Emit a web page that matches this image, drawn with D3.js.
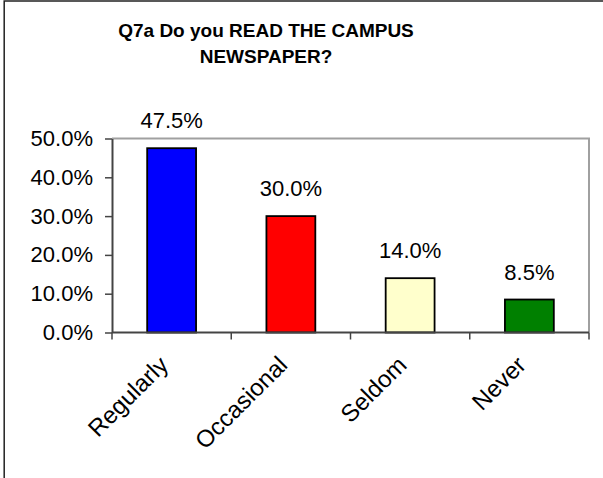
<!DOCTYPE html>
<html>
<head>
<meta charset="utf-8">
<script src="https://d3js.org/d3.v7.min.js"></script>
<style>
    body { margin: 0; background: #fff; }
    text { font-family: "Liberation Sans", Arial, sans-serif; fill: #000; }
    .title { font-size: 19px; font-weight: bold; }
    .tickLabel { font-size: 22px; }
    .catLabel { font-size: 24px; }
    .valueLabel { font-size: 22px; }
</style>
</head>
<body>
<script>
var categories = ["Regularly", "Occasional", "Seldom", "Never"];
var values = [0.475, 0.30, 0.14, 0.085];
var barColors = ["#0000FF", "#FF0000", "#FFFFCC", "#008000"];
var yTicks = [0, 0.1, 0.2, 0.3, 0.4, 0.5];
var titleLines = ["Q7a Do you READ THE CAMPUS", "NEWSPAPER?"];

let width = 603, height = 478;
let plot = { left: 112, right: 589, top: 138.5, bottom: 332.5 };

var svg = d3.select("body")
    .append("svg")
    .attr("width", width)
    .attr("height", height);

// outer chart frame (runs past the right and bottom edge)
svg.append("rect")
    .attr("x", 4.2)
    .attr("y", 1)
    .attr("width", 800)
    .attr("height", 600)
    .attr("fill", "#fff")
    .attr("stroke", "#222")
    .attr("stroke-width", 1.5);

// title
svg.append("g")
    .selectAll("text")
    .data(titleLines)
    .enter()
    .append("text")
    .attr("class", "title")
    .attr("x", 266)
    .attr("y", function(d, i) { return 37 + i * 26; })
    .attr("text-anchor", "middle")
    .text(function(d) { return d; });

var xScale = d3.scaleBand()
    .domain(categories)
    .range([plot.left, plot.right])
    .padding(0);

var yScale = d3.scaleLinear()
    .domain([0, 0.5])
    .range([plot.bottom, plot.top]);

let barWidth = xScale.bandwidth() * 0.41;

// plot area border: top and right in grey
svg.append("path")
    .attr("d", "M" + plot.left + "," + plot.top + "H" + plot.right + "V" + plot.bottom)
    .attr("fill", "none")
    .attr("stroke", "#a0a0a0")
    .attr("stroke-width", 2);

// bars
svg.append("g")
    .selectAll("rect")
    .data(values)
    .enter()
    .append("rect")
    .attr("x", function(d, i) { return xScale(categories[i]) + (xScale.bandwidth() - barWidth) / 2; })
    .attr("y", function(d) { return yScale(d); })
    .attr("width", barWidth)
    .attr("height", function(d) { return yScale(0) - yScale(d); })
    .attr("fill", function(d, i) { return barColors[i]; })
    .attr("stroke", "#000")
    .attr("stroke-width", 1.8);

// value labels
svg.append("g")
    .selectAll("text")
    .data(values)
    .enter()
    .append("text")
    .attr("class", "valueLabel")
    .attr("x", function(d, i) { return xScale(categories[i]) + xScale.bandwidth() / 2; })
    .attr("y", function(d) { return yScale(d) - 20; })
    .attr("text-anchor", "middle")
    .text(function(d) { return d3.format(".1%")(d); });

// y axis
let yAxis = svg.append("g")
    .attr("transform", "translate(" + plot.left + ",0)")
    .call(d3.axisLeft(yScale)
        .tickValues(yTicks)
        .tickFormat(d3.format(".1%"))
        .tickSize(7)
        .tickSizeOuter(0)
        .tickPadding(12));
yAxis.select(".domain").attr("stroke", "#444").attr("stroke-width", 2);
yAxis.selectAll(".tick line").attr("stroke", "#444").attr("stroke-width", 1.5);
yAxis.selectAll(".tick text")
    .attr("class", "tickLabel")
    .attr("font-size", null)
    .attr("font-family", null)
    .attr("fill", "#000");

// x axis: ticks sit on the category boundaries
let xAxis = svg.append("g");
xAxis.append("line")
    .attr("x1", plot.left)
    .attr("x2", plot.right)
    .attr("y1", yScale(0))
    .attr("y2", yScale(0))
    .attr("stroke", "#444")
    .attr("stroke-width", 2);
let boundaries = categories.map(function(c) { return xScale(c); }).concat([plot.right]);
xAxis.selectAll(".xtick")
    .data(boundaries)
    .enter()
    .append("line")
    .attr("class", "xtick")
    .attr("x1", function(d) { return d; })
    .attr("x2", function(d) { return d; })
    .attr("y1", yScale(0))
    .attr("y2", yScale(0) + 7)
    .attr("stroke", "#444")
    .attr("stroke-width", 1.5);

xAxis.selectAll(".xlabel")
    .data(categories)
    .enter()
    .append("text")
    .attr("class", "catLabel")
    .attr("text-anchor", "end")
    .attr("transform", function(d) {
        var cx = xScale(d) + xScale.bandwidth() / 2 - 2;
        return "translate(" + cx + "," + (yScale(0) + 34) + ") rotate(-45)";
    })
    .text(function(d) { return d; });
</script>
</body>
</html>
